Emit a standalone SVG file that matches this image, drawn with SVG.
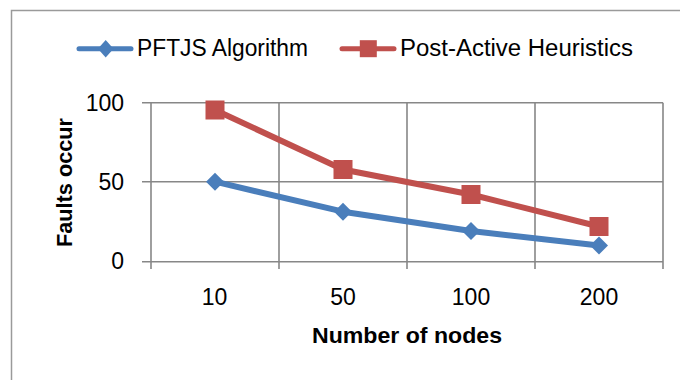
<svg xmlns="http://www.w3.org/2000/svg" width="680" height="380" viewBox="0 0 680 380">
<style>
.grid{stroke:#878787;stroke-width:1.6;fill:none}
.lbl{font-family:"Liberation Sans",Arial,sans-serif;font-size:23px;fill:#000}
.ttl{font-family:"Liberation Sans",Arial,sans-serif;font-size:22.5px;font-weight:bold;fill:#000}
.sb{stroke:#4A7EBB;stroke-width:6;fill:none;stroke-linejoin:round;stroke-linecap:round}
.sr{stroke:#C0504D;stroke-width:6;fill:none;stroke-linejoin:round;stroke-linecap:round}
.mb{fill:#4A7EBB}
.mr{fill:#C0504D}
</style>
<defs>
<path id="dia" d="M0,-9 L9,0 L0,9 L-9,0 Z"/>
<rect id="sq" x="-9.5" y="-9.5" width="19" height="19"/>
</defs>
<rect x="11.5" y="10.5" width="720" height="420" fill="#fff" stroke="#9a9a9a" stroke-width="1.5"/>
<g id="grid">
<path class="grid" d="M142,102.7H663 M142,181.7H663 M142,261.7H663 M151,102.7V269 M279,102.7V269 M407,102.7V269 M535,102.7V269 M663,102.7V269"/>
</g>
<g id="axis-labels">
<text class="lbl" x="124" y="110.7" text-anchor="end">100</text>
<text class="lbl" x="124" y="190" text-anchor="end">50</text>
<text class="lbl" x="124" y="269.3" text-anchor="end">0</text>
<text class="lbl" x="214.5" y="305" text-anchor="middle">10</text>
<text class="lbl" x="343" y="305" text-anchor="middle">50</text>
<text class="lbl" x="471" y="305" text-anchor="middle">100</text>
<text class="lbl" x="599" y="305" text-anchor="middle">200</text>
<text class="ttl" x="407" y="343.3" text-anchor="middle" textLength="190" lengthAdjust="spacingAndGlyphs">Number of nodes</text>
<text class="ttl" transform="translate(71.5,182.5) rotate(-90)" text-anchor="middle" textLength="129" lengthAdjust="spacingAndGlyphs">Faults occur</text>
</g>
<g id="connectors">
<polyline class="sr" points="215,110 343,169.5 471,194.5 599,226.5"/>
<polyline class="sb" points="215,181.7 343,211.7 471,231 599,245.5"/>
</g>
<g id="series-red">
<use href="#sq" class="mr" x="215" y="110"/>
<use href="#sq" class="mr" x="343" y="169.5"/>
<use href="#sq" class="mr" x="471" y="194.5"/>
<use href="#sq" class="mr" x="599" y="226.5"/>
</g>
<g id="series-blue">
<use href="#dia" class="mb" x="215" y="181.7"/>
<use href="#dia" class="mb" x="343" y="211.7"/>
<use href="#dia" class="mb" x="471" y="231"/>
<use href="#dia" class="mb" x="599" y="245.5"/>
</g>
<g id="legend-blue">
<line x1="79" y1="48.7" x2="131" y2="48.7" stroke="#4A7EBB" stroke-width="5" stroke-linecap="round"/>
<path class="mb" d="M105.7,40 L113.5,48.7 L105.7,57.4 L97.9,48.7 Z"/>
<text class="lbl" x="137" y="56" textLength="171" lengthAdjust="spacingAndGlyphs">PFTJS Algorithm</text>
</g>
<g id="legend-red">
<line x1="342" y1="48.7" x2="394" y2="48.7" stroke="#C0504D" stroke-width="5" stroke-linecap="round"/>
<rect class="mr" x="359.8" y="40.2" width="17" height="17"/>
<text class="lbl" x="400" y="56" textLength="233" lengthAdjust="spacingAndGlyphs">Post-Active Heuristics</text>
</g>
</svg>
